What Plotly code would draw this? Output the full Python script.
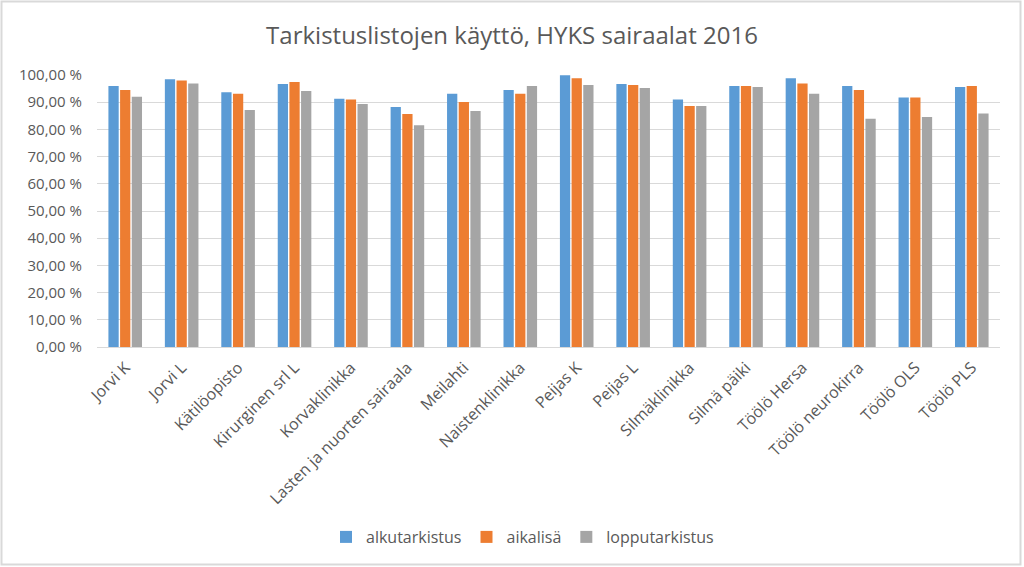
import plotly.graph_objects as go

categories = ["Jorvi K", "Jorvi L", "Kätilöopisto", "Kirurginen srl L", "Korvaklinikka",
              "Lasten ja nuorten sairaala", "Meilahti", "Naistenklinikka", "Peijas K", "Peijas L",
              "Silmäklinikka", "Silmä päiki", "Töölö Hersa", "Töölö neurokirra", "Töölö OLS", "Töölö PLS"]
alkutarkistus = [96.0, 98.4, 93.7, 96.7, 91.3, 88.2, 93.1, 94.5, 99.9, 96.7, 91.0, 96.0, 98.8, 96.0, 91.7, 95.6]
aikalisa = [94.5, 98.0, 93.1, 97.4, 91.0, 85.7, 90.1, 93.1, 98.8, 96.3, 88.6, 96.0, 96.9, 94.5, 91.7, 96.0]
lopputarkistus = [92.0, 96.9, 87.1, 94.1, 89.3, 81.5, 86.8, 96.0, 96.3, 95.2, 88.6, 95.6, 93.1, 83.9, 84.6, 85.8]
series_names = ["alkutarkistus", "aikalisä", "lopputarkistus"]
colors = ["#5B9BD5", "#ED7D31", "#A5A5A5"]
ytick_vals = list(range(0, 101, 10))
ytick_text = [f"{v},00 %" for v in ytick_vals]

fig = go.Figure()
for name, vals, c in zip(series_names, [alkutarkistus, aikalisa, lopputarkistus], colors):
    fig.add_trace(go.Bar(x=categories, y=vals, name=name, marker_color=c, marker_line_width=0))

W, H = 1024, 567
ml, mr, mt, mb = 97, 24, 75, 220
pw, ph = W - ml - mr, H - mt - mb

fig.update_layout(
    width=W, height=H,
    margin=dict(l=ml, r=mr, t=mt, b=mb, autoexpand=False),
    paper_bgcolor="white", plot_bgcolor="white",
    font=dict(family="Open Sans, Segoe UI, sans-serif", color="#595959", size=14),
    title=dict(text="Tarkistuslistojen käyttö, HYKS sairaalat 2016", x=0.5, xanchor="center",
               y=1 - 36 / H, yanchor="middle", font=dict(size=24, color="#595959")),
    barmode="group", bargap=0.38, bargroupgap=0.12,
    xaxis=dict(tickangle=-45, showgrid=False, showline=True, linecolor="#D9D9D9",
               ticks="", tickfont=dict(size=16, color="#595959"), automargin=False,
               ticklabelstandoff=4),
    yaxis=dict(range=[0, 100], tickmode="array", tickvals=ytick_vals, ticktext=ytick_text,
               showgrid=True, gridcolor="#D9D9D9", gridwidth=1, zeroline=False,
               tickfont=dict(size=15, color="#595959"), showline=False, automargin=False,
               ticklabelstandoff=14),
    legend=dict(orientation="h", x=0.5 - 26 / pw, xanchor="center", y=-190 / ph, yanchor="middle",
                font=dict(size=16, color="#595959")),
    shapes=[dict(type="rect", xref="paper", yref="paper",
                 x0=-(ml - 1.5) / pw, x1=1 + (mr - 3.5) / pw, y0=-(mb - 2.5) / ph, y1=1 + (mt - 1.5) / ph,
                 line=dict(color="#D9D9D9", width=2), fillcolor="rgba(0,0,0,0)")],
)

fig.write_html("out.html", config={"displayModeBar": False},
               post_script="document.body.style.margin='0';document.body.style.overflow='hidden';")
